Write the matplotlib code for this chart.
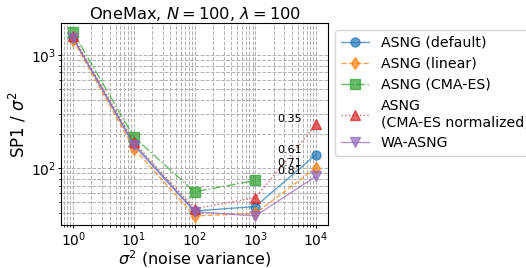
import matplotlib
matplotlib.use("Agg")
import matplotlib.pyplot as plt
import numpy as np

x = [1, 10, 100, 1000, 10000]
labels = ["ASNG (default)", "ASNG (linear)", "ASNG (CMA-ES)",
          "ASNG\n(CMA-ES normalized)", "WA-ASNG"]
asng_default = [1400, 163, 42, 46, 132]
asng_linear = [1350, 149, 38, 40, 101]
asng_cma = [1580, 188, 62, 78, np.nan]
asng_cma_norm = [1450, 170, 44, 55, 243]
wa_asng = [1400, 159, 41.4, 38, 85]
success = ["0.61", "0.71", None, "0.35", "0.81"]

series = [asng_default, asng_linear, asng_cma, asng_cma_norm, wa_asng]
colors = ["#1f77b4", "#ff7f0e", "#2ca02c", "#d62728", "#9467bd"]
markers = ["o", "d", "s", "^", "v"]
styles = ["-", "--", "-.", ":", "-"]

fig = plt.figure(figsize=(5.26, 2.68), dpi=100)
ax = fig.add_axes([0.116, 0.16, 0.508, 0.754])
for ys, lab, c, m, ls, s in zip(series, labels, colors, markers, styles, success):
    ax.plot(x, ys, color=c, marker=m, linestyle=ls, label=lab, alpha=0.7,
            markersize=6.5, linewidth=1)
    if s is not None:
        ax.annotate(s, (x[-1], ys[-1]), xytext=(-10, 0), textcoords="offset points",
                    ha="right", va="bottom", fontsize=8)
ax.set_xscale("log")
ax.set_yscale("log")
ax.grid(True, which="both", linestyle="--", color="#b0b0b0", linewidth=0.7)
ax.set_title(r"OneMax, $N = 100$, $\lambda = 100$", fontsize=11.7, pad=3)
ax.set_xlabel(r"$\sigma^2$ (noise variance)", fontsize=11.5, labelpad=0)
ax.set_ylabel(r"SP1 / $\sigma^2$", fontsize=12, labelpad=2)
ax.tick_params(which="major", labelsize=10, length=2.5, pad=1)
ax.tick_params(which="minor", length=1.5)
ax.legend(loc="upper left", bbox_to_anchor=(1.0, 1.0), fontsize=10.2)
fig.savefig("out.png", dpi=100)
